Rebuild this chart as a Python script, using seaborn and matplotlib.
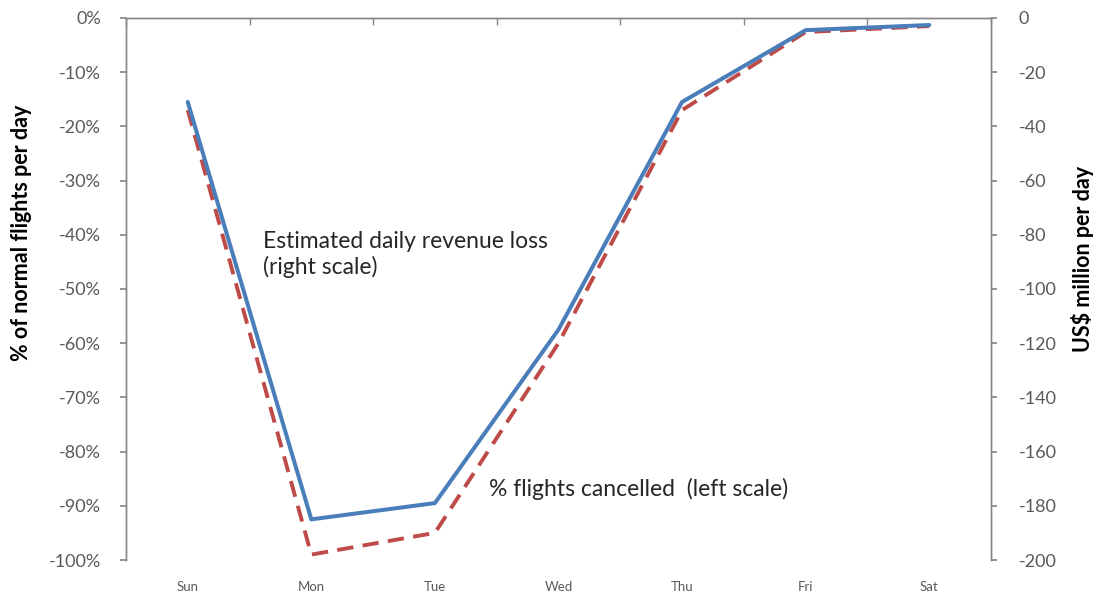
import numpy as np
import pandas as pd
import matplotlib
matplotlib.use("Agg")
import matplotlib.pyplot as plt
import seaborn as sns
from matplotlib.ticker import FuncFormatter

days = ["Sun", "Mon", "Tue", "Wed", "Thu", "Fri", "Sat"]
flights_cancelled_pct = [-17, -99, -95, -60, -17, -2.6, -1.5]
revenue_loss_musd = [-31, -185, -179, -115, -31, -4.5, -2.6]

sns.set_theme(style="white")
plt.rcParams["font.family"] = ["Lato", "DejaVu Sans"]
plt.rcParams["axes.unicode_minus"] = False

df = pd.DataFrame({
    "pos": np.arange(len(days)),
    "day": days,
    "flights": flights_cancelled_pct,
    "revenue": revenue_loss_musd,
})

fig = plt.figure(figsize=(11, 5.99), dpi=100)
ax = fig.add_axes([0.1145, 0.0651, 0.7864, 0.9049])
ax2 = ax.twinx()

grey = "#868686"
tick_grey = "#595959"

sns.lineplot(data=df, x="pos", y="flights", ax=ax, sort=False,
             color="#BE4B48", linewidth=2.8)
ax.lines[-1].set_dashes((4.2, 2.4))
sns.lineplot(data=df, x="pos", y="revenue", ax=ax2, sort=False,
             color="#4A7EBB", linewidth=2.9)

ax.set_xlim(-0.5, len(days) - 0.5)
ax.set_ylim(-100, 0)
ax2.set_ylim(-200, 0)

ax.set_yticks(np.arange(-100, 1, 10))
ax.yaxis.set_major_formatter(FuncFormatter(lambda v, _: f"{int(round(v))}%"))
ax2.set_yticks(np.arange(-200, 1, 20))
ax2.yaxis.set_major_formatter(FuncFormatter(lambda v, _: f"{int(round(v))}"))

ax.set_xticks(df["pos"])
ax.set_xticklabels(days)
ax.set_xticks(np.arange(-0.5, len(days), 1), minor=True)

ax.tick_params(axis="x", which="major", bottom=False, top=False, length=0,
               pad=15, labelsize=9.5, labelcolor=tick_grey)
ax.tick_params(axis="x", which="minor", bottom=False, top=True,
               direction="in", length=5, color=grey)
ax.tick_params(axis="y", left=True, direction="out", length=4, color=grey,
               labelsize=13, labelcolor=tick_grey, pad=14)
ax2.tick_params(axis="y", right=True, direction="out", length=4, color=grey,
                labelsize=13, labelcolor=tick_grey, pad=16)

for a in (ax, ax2):
    a.spines["bottom"].set_visible(False)
    for side in ("top", "left", "right"):
        a.spines[side].set_color(grey)
        a.spines[side].set_linewidth(1.0)
    a.grid(False)

ax.set_xlabel("")
ax.set_ylabel("")
ax2.set_ylabel("")

fig.text(22 / 1100, 1 - 233 / 599, "% of normal flights per day", rotation=90,
         fontsize=15.5, fontweight="bold", color="black",
         ha="center", va="center")
fig.text(1082 / 1100, 1 - 259 / 599, "US$ million per day", rotation=90,
         fontsize=15.5, fontweight="bold", color="black",
         ha="center", va="center")

ax.text(0.61, -39.3, "Estimated daily revenue loss\n(right scale)",
        fontsize=16.5, color="#262626", va="top", ha="left", linespacing=1.22)
ax.text(2.44, -86.8, "% flights cancelled  (left scale)",
        fontsize=16.5, color="#262626", va="center", ha="left")

fig.savefig("out.png", dpi=100)
